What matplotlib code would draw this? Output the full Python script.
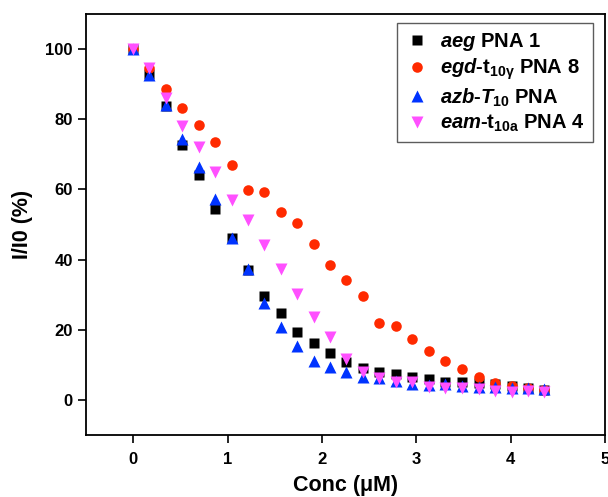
import matplotlib
matplotlib.use("Agg")
import matplotlib.pyplot as plt

plt.rcParams["font.family"] = ["Liberation Sans", "DejaVu Sans"]
plt.rcParams["font.weight"] = "bold"
plt.rcParams["mathtext.fontset"] = "custom"
plt.rcParams["mathtext.rm"] = "Liberation Sans:bold"
plt.rcParams["mathtext.it"] = "Liberation Sans:bold:italic"
plt.rcParams["mathtext.bf"] = "Liberation Sans:bold"

conc = [0.00, 0.17, 0.35, 0.52, 0.70, 0.87, 1.05, 1.22, 1.39, 1.57, 1.74, 1.92, 2.09,
        2.26, 2.44, 2.61, 2.79, 2.96, 3.14, 3.31, 3.48, 3.66, 3.83, 4.01, 4.18, 4.35]

aeg_pna1 = [100, 93.0, 83.8, 72.8, 64.1, 54.4, 46.1, 37.0, 29.7, 24.7, 19.5, 16.1, 13.5,
            10.9, 9.0, 8.0, 7.3, 6.6, 6.0, 5.2, 5.0, 4.9, 4.5, 4.0, 3.3, 2.8]
egd_pna8 = [100, 94.7, 88.6, 83.3, 78.5, 73.4, 67.0, 59.7, 59.3, 53.6, 50.3, 44.4, 38.6,
            34.2, 29.7, 22.0, 21.0, 17.3, 14.0, 11.2, 8.7, 6.4, 4.8, 4.1, 3.3, 2.8]
azb_pna = [100, 92.6, 84.0, 74.5, 66.4, 57.3, 46.3, 37.3, 27.5, 20.9, 15.5, 11.2, 9.5,
           8.1, 6.6, 6.2, 5.4, 4.6, 4.3, 4.6, 4.0, 3.8, 3.6, 3.5, 3.4, 3.0]
eam_pna4 = [100, 94.5, 86.2, 78.1, 72.0, 64.9, 57.0, 51.2, 44.2, 37.2, 30.2, 23.5, 17.8,
            11.6, 8.1, 6.2, 5.2, 5.0, 3.8, 3.4, 3.4, 3.0, 2.6, 2.4, 2.5, 2.4]

labels = [r"$\mathit{aeg}$ PNA 1",
          r"$\mathit{egd}$-t$_{\mathrm{10γ}}$ PNA 8",
          r"$\mathit{azb}$-$\mathit{T}_{\mathrm{10}}$ PNA",
          r"$\mathit{eam}$-t$_{\mathrm{10a}}$ PNA 4"]

fig = plt.figure(figsize=(6.08, 4.97), dpi=100)
ax = fig.add_axes([0.1414, 0.1247, 0.8536, 0.8471])

ax.plot(conc, aeg_pna1, "s", color="#000000", ms=6.8, mec="none", label=labels[0])
ax.plot(conc, egd_pna8, "o", color="#ff2a00", ms=7.6, mec="none", label=labels[1])
ax.plot(conc, azb_pna, "^", color="#0033ff", ms=8.4, mec="none", label=labels[2])
ax.plot(conc, eam_pna4, "v", color="#ff50ff", ms=8.4, mec="none", label=labels[3])

ax.set_xlim(-0.5, 5)
ax.set_ylim(-10, 110)
ax.set_xticks([0, 1, 2, 3, 4, 5])
ax.set_yticks([0, 20, 40, 60, 80, 100])
ax.tick_params(direction="out", length=6, width=1.2, labelsize=12, top=False, right=False)
ax.tick_params(axis="x", pad=6)
for s in ax.spines.values():
    s.set_linewidth(1.3)

ax.set_xlabel("Conc (μM)", fontsize=15.5, fontweight="bold", labelpad=6)
ax.set_ylabel("I/I0 (%)", fontsize=15.5, fontweight="bold", labelpad=9)

leg = ax.legend(loc="upper right", bbox_to_anchor=(0.977, 0.979), borderaxespad=0,
                fontsize=14.5, frameon=True, fancybox=False, handletextpad=0.55,
                labelspacing=0.2, borderpad=0.4, handlelength=1.2)
leg.get_frame().set_edgecolor("#333333")
leg.get_frame().set_linewidth(1.0)

fig.savefig("out.png", dpi=100)
